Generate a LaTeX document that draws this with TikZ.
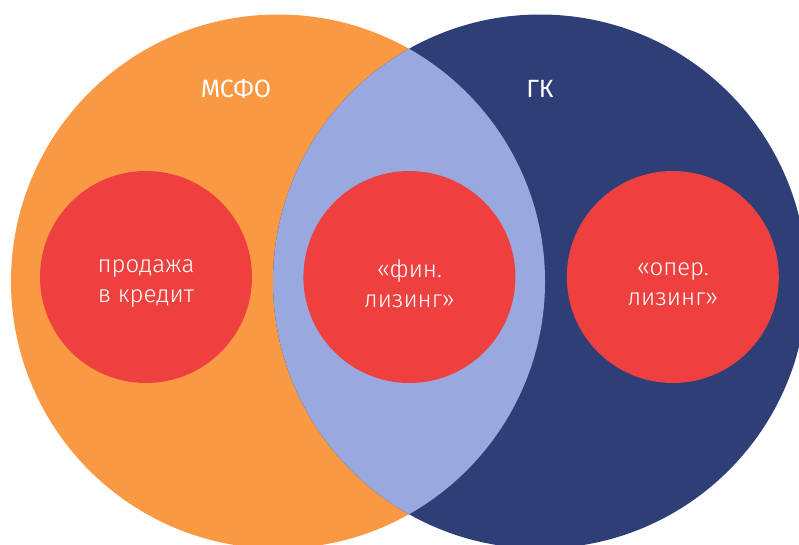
\documentclass[tikz,border=0pt]{standalone}
\usepackage{fontspec}
\setmainfont{Fira Sans}
\newfontfamily\caselight{Fira Sans Light}
\usetikzlibrary{positioning}
\definecolor{msfoorange}{HTML}{F99943}
\definecolor{gkblue}{HTML}{2E3E77}
\definecolor{lensblue}{HTML}{99A9E0}
\definecolor{casered}{HTML}{EF4040}
\tikzset{
	% Two big sets and the cases inside them
	set circle/.style={circle,inner sep=0,minimum size=534pt},
	set label/.style={text=white,anchor=base,font=\fontsize{25}{30}\selectfont},
	case node/.style={circle,fill=casered,inner sep=0,minimum size=212pt},
	case text/.style={text=white,align=center,yshift=-7pt,font=\caselight\fontsize{24}{30}\selectfont}
}

\begin{document}
\begin{tikzpicture}[x=1pt,y=-1pt]
			\useasboundingbox (0,0) rectangle (799,544);
			\clip (0,0) rectangle (799,544);
			
			% the two sets
			\node(msfo)[set circle,fill=msfoorange] at (278,281.5){};
			\node(gk)[set circle,fill=gkblue] at (540,281.5){};
			% their common part
			\begin{scope}
				\clip (msfo.center) circle[radius=267pt];
				\fill[lensblue] (gk.center) circle[radius=267pt];
			\end{scope}
			
			\node(msfo-label)[set label] at (236,97){МСФО};
			\node(gk-label)[set label] at (540,97){ГК};
			
			% the cases
			\node(credit)[case node,label={[case text]center:{продажа\\в кредит}}] at (146,277){};
			\node(fin)[case node,right=51pt of credit,label={[case text]center:{«фин.\\лизинг»}}]{};
			\node(oper)[case node,right=51pt of fin,label={[case text]center:{«опер.\\лизинг»}}]{};
		\end{tikzpicture}
\end{document}
